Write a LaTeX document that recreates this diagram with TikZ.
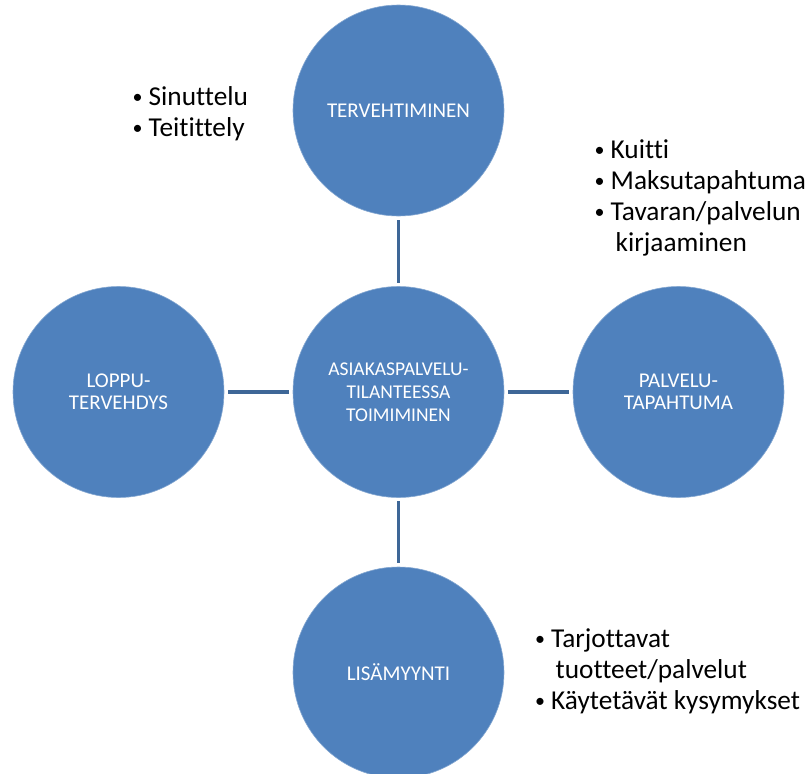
\documentclass[tikz,border=0pt]{standalone}
\usepackage{fontspec}
\setmainfont[Ligatures=CommonOff]{Carlito}
\definecolor{circfill}{HTML}{4F81BD}
\definecolor{linkcol}{HTML}{3E6797}
% small bullet hanging to the left of the text origin
\newcommand\listbullet{\llap{\makebox[22pt][c]{\raisebox{1.5pt}{\fontsize{20}{20}\selectfont •}}}}
\begin{document}
\begin{tikzpicture}[x=1pt,y=-1pt,
  topic/.style={circle, fill=circfill, draw=circfill!70!white, line width=0.6pt,
    minimum size=211pt, inner sep=0pt, text=white, align=center,
    font=\fontsize{21}{22}\selectfont},
  hub/.style={topic, font=\fontsize{19.5}{23}\selectfont},
  link/.style={draw=linkcol, line width=3.3pt, shorten >=3.5pt, shorten <=3.5pt},
  notes/.style={anchor=base west, inner sep=0pt, text=black,
    font=\fontsize{27.3}{31}\selectfont}]
\useasboundingbox (0,0) rectangle (812,774);
\clip (0,0) rectangle (812,774);

% the five topic circles
\node[hub]   (center)  at (398.5,392)   {ASIAKASPALVELU-\\TILANTEESSA\\TOIMIMINEN};
\node[topic] (greet)   at (398.5,110.5) {TERVEHTIMINEN};
\node[topic] (bye)     at (118.5,392)   {LOPPU-\\TERVEHDYS};
\node[topic] (service) at (678.5,392)   {PALVELU-\\TAPAHTUMA};
\node[topic] (upsell)  at (398.5,672.5) {LISÄMYYNTI};

% spokes from the hub
\draw[link] (center) -- (greet);
\draw[link] (center) -- (bye);
\draw[link] (center) -- (service);
\draw[link] (center) -- (upsell);

% bullet notes
\node[notes] (greetnotes) at (148.5,105) {\begin{tabular}[t]{@{}l@{}}
  \listbullet Sinuttelu\\
  \listbullet Teitittely
\end{tabular}};
\node[notes] (servicenotes) at (610.5,158) {\begin{tabular}[t]{@{}l@{}}
  \listbullet Kuitti\\
  \listbullet Maksutapahtuma\\
  \listbullet Tavaran/palvelun\\
  \hspace*{5pt}kirjaaminen
\end{tabular}};
\node[notes] (upsellnotes) at (551,647) {\begin{tabular}[t]{@{}l@{}}
  \listbullet Tarjottavat\\
  \hspace*{4.5pt}tuotteet/palvelut\\
  \listbullet Käytetävät kysymykset
\end{tabular}};
\end{tikzpicture}
\end{document}
